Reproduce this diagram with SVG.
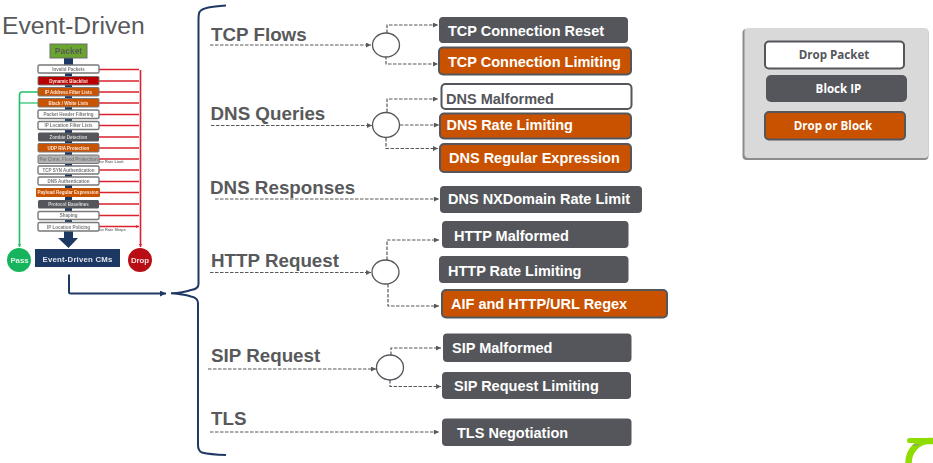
<svg xmlns="http://www.w3.org/2000/svg" width="933" height="463" viewBox="0 0 933 463">
<style>
text{font-family:"Liberation Sans",Arial,sans-serif;font-weight:700}
.lab{font-size:18.800px;fill:#58595b}
.bt{font-size:14.500px;fill:#fff}
.bd{font-size:14.500px;fill:#54565b}
.g{fill:#54565b}
.o{fill:#c85200;stroke:#54565b;stroke-width:2}
.w{fill:#fff;stroke:#54565b;stroke-width:2}
.dash{fill:none;stroke:#58595b;stroke-width:1.200;stroke-dasharray:3.500 1.500}
.circ{fill:#fff;stroke:#54565b;stroke-width:1.300}
.leg{font-family:"Open Sans","Liberation Sans",sans-serif;font-size:11.600px;text-anchor:middle}
.s{font-size:4.500px;text-anchor:middle}
.sd{fill:#77787b}.sw{fill:#fbe9dd}
.r{fill:none;stroke:#d9202c;stroke-width:1.300}
.sw-b{fill:#fff;stroke:#77787b;stroke-width:1.400}
.navy{fill:#1f3864}
.nl{fill:none;stroke:#1f3864;stroke-width:2}
</style>
<defs>
<marker id="ga" markerWidth="6" markerHeight="6" refX="5" refY="2.500" orient="auto" markerUnits="userSpaceOnUse"><path d="M0 0L5 2.500L0 5Z" fill="#58595b"/></marker>
<marker id="ra" markerWidth="4" markerHeight="4" refX="3" refY="1.500" orient="auto" markerUnits="userSpaceOnUse"><path d="M0 0L3 1.500L0 3Z" fill="#d9202c"/></marker>
<marker id="ea" markerWidth="4" markerHeight="4" refX="3" refY="1.500" orient="auto" markerUnits="userSpaceOnUse"><path d="M0 0L3 1.500L0 3Z" fill="#1fbf63"/></marker>
<marker id="na" markerWidth="7" markerHeight="7" refX="6" refY="3" orient="auto" markerUnits="userSpaceOnUse"><path d="M0 0L6 3L0 6Z" fill="#1f3864"/></marker>
<filter id="soft" x="-5%" y="-5%" width="110%" height="110%"><feGaussianBlur stdDeviation="0.450"/></filter>
</defs>
<rect width="933" height="463" fill="#fff"/>
<text id="title" x="2" y="34" font-size="24.700" style="font-weight:400" fill="#58595b">Event-Driven</text>

<g id="flow" filter="url(#soft)">
<g id="stack-connectors">
<rect class="navy" x="64" y="58" width="9" height="7"/>
<rect class="navy" x="65" y="73" width="7" height="160"/>
<path class="navy" d="M64 231H73V238H78L68.500 248L58 238H64Z"/>
<path class="r" d="M99 69.500H139M99 81H139M99 92H139M99 103H139M99 114.500H139M99 125.500H139M99 137H139M99 148H139M99 159H139M99 170H139M99 181.500H139M100 192.500H139M99 204H139M99 215.500H139M99 226.500H139" marker-end="url(#ra)"/>
<path d="M140.500 70V247" fill="none" stroke="#d9202c" stroke-width="1.600" marker-end="url(#ra)"/>
<path d="M38 92H22Q19.500 92 19.500 95V247" fill="none" stroke="#1fbf63" stroke-width="1.600" marker-end="url(#ea)"/>
<path d="M38 103H20" fill="none" stroke="#1fbf63" stroke-width="1.200"/>
</g>
<g id="packet"><rect x="50" y="44" width="37" height="14" fill="#6aa62e" stroke="#6d6e71"/><text x="68.500" y="54" font-size="8.500" text-anchor="middle" fill="#58595b">Packet</text></g>
<g id="s1"><rect class="sw-b" x="38" y="65" width="61" height="8" rx="1.500"/><text class="s sd" x="68.500" y="70.800">Invalid Packets</text></g>
<g id="s2"><rect x="38" y="76.500" width="61" height="8.500" rx="1" fill="#b90000" stroke="#77787b"/><text class="s sw" x="68.500" y="82.500">Dynamic Blacklist</text></g>
<g id="s3"><rect x="38" y="87.500" width="61" height="8.500" rx="1" fill="#c85200" stroke="#77787b"/><text class="s sw" x="68.500" y="93.500">IP Address Filter Lists</text></g>
<g id="s4"><rect x="38" y="98.500" width="61" height="8.500" rx="1" fill="#c85200" stroke="#77787b"/><text class="s sw" x="68.500" y="104.500">Black / White Lists</text></g>
<g id="s5"><rect class="sw-b" x="38" y="110" width="61" height="8.500" rx="1.500"/><text class="s sd" x="68.500" y="116">Packet Header Filtering</text></g>
<g id="s6"><rect class="sw-b" x="38" y="121.500" width="61" height="8" rx="1.500"/><text class="s sd" x="68.500" y="127.300">IP Location Filter Lists</text></g>
<g id="s7"><rect x="38" y="132.500" width="61" height="9" rx="1.500" fill="#54565b"/><text class="s" fill="#d8d8d8" x="68.500" y="138.500">Zombie Detection</text></g>
<g id="s8"><rect x="38" y="143.500" width="61" height="8.500" rx="1" fill="#c85200" stroke="#77787b"/><text class="s sw" x="68.500" y="149.500">UDP RIA Protection</text></g>
<g id="s9"><rect x="38" y="155" width="61" height="8.500" rx="1" fill="#b3b3b3" stroke="#77787b"/><text class="s sd" x="68.500" y="161">Per Conn. Flood Protection</text></g>
<text x="99" y="162.700" font-size="3.800" fill="#77787b">for Rate Limit</text>
<g id="s10"><rect class="sw-b" x="38" y="166" width="61" height="8" rx="1.500"/><text class="s sd" x="68.500" y="171.800">TCP SYN Authentication</text></g>
<g id="s11"><rect class="sw-b" x="38" y="177" width="61" height="8" rx="1.500"/><text class="s sd" x="68.500" y="182.800">DNS Authentication</text></g>
<g id="s12"><rect x="36" y="188" width="64" height="9" rx="1" fill="#c85200"/><text class="s sw" x="68" y="194">Payload Regular Expression</text></g>
<g id="s13"><rect x="38" y="200" width="61" height="8.500" rx="1.500" fill="#54565b"/><text class="s" fill="#d8d8d8" x="68.500" y="206">Protocol Baselines</text></g>
<g id="s14"><rect class="sw-b" x="38" y="211.500" width="61" height="8" rx="1.500"/><text class="s sd" x="68.500" y="217.300">Shaping</text></g>
<g id="s15"><rect class="sw-b" x="38" y="222.500" width="61" height="8.500" rx="1.500"/><text class="s sd" x="68.500" y="228.500">IP Location Policing</text></g>
<text x="99" y="230.500" font-size="3.800" fill="#77787b">for Rate Shape</text>
<g id="cms"><rect class="navy" x="35" y="249" width="85" height="18"/><text x="77.500" y="261.500" font-size="7.800" text-anchor="middle" fill="#dfe4ec" letter-spacing=".2">Event-Driven CMs</text></g>
<g id="pass"><circle cx="19" cy="260" r="12" fill="#17b45c"/><text x="19.500" y="263" font-size="7.800" text-anchor="middle" fill="#dff5e8">Pass</text></g>
<g id="drop"><circle cx="140" cy="260" r="12" fill="#b90f18"/><text x="140" y="263" font-size="7.800" text-anchor="middle" fill="#f5e0e0">Drop</text></g>
</g>

<g id="connectors">
<path class="nl" d="M69 274.500V292Q69 293.500 71 293.500H166" marker-end="url(#na)"/>
<path d="M226 5.500C212 6.500 202 7.500 199.500 12Q198.500 14 198.500 20V284Q198.500 289 191 290Q183 293 171 293.300Q183 294 191 296.500Q198 298 198 303V445Q198 451 202 452.500Q210 454.500 226 455" fill="none" stroke="#1f3864" stroke-width="2"/>
<g class="dash">
<path d="M210 45H371" marker-end="url(#ga)"/>
<path d="M387 33V25H438" marker-end="url(#ga)"/>
<path d="M386 56V64H438" marker-end="url(#ga)"/>
<path d="M211 125.500H372" marker-end="url(#ga)"/>
<path d="M387 112V99H438" marker-end="url(#ga)"/>
<path d="M400 125H439" marker-end="url(#ga)"/>
<path d="M386 138V148.500H438" marker-end="url(#ga)"/>
<path d="M215 199H439" marker-end="url(#ga)"/>
<path d="M210 272.500H371" marker-end="url(#ga)"/>
<path d="M387 260V240H439" marker-end="url(#ga)"/>
<path d="M388 284V306H439" marker-end="url(#ga)"/>
<path d="M208 369H376" marker-end="url(#ga)"/>
<path d="M391 355V348H441" marker-end="url(#ga)"/>
<path d="M390 380V386.500H441" marker-end="url(#ga)"/>
<path d="M210 432H439" marker-end="url(#ga)"/>
</g>
</g>

<g id="fork-tcp"><ellipse class="circ" cx="386" cy="45" rx="13.500" ry="12"/></g>
<g id="fork-dns"><ellipse class="circ" cx="386" cy="125" rx="13.500" ry="12.500"/></g>
<g id="fork-http"><ellipse class="circ" cx="385.500" cy="272" rx="13.500" ry="12"/></g>
<g id="fork-sip"><ellipse class="circ" cx="390" cy="367.500" rx="13.500" ry="12.500"/></g>

<g id="label-tcp"><text class="lab" x="211" y="41">TCP Flows</text></g>
<g id="label-dnsq"><text class="lab" x="210.500" y="120">DNS Queries</text></g>
<g id="label-dnsr"><text class="lab" x="210" y="194">DNS Responses</text></g>
<g id="label-http"><text class="lab" x="211" y="267">HTTP Request</text></g>
<g id="label-sip"><text class="lab" x="211" y="362">SIP Request</text></g>
<g id="label-tls"><text class="lab" x="211" y="425">TLS</text></g>

<g id="b1"><rect class="g" x="439" y="17" width="189" height="26" rx="4"/><text class="bt" x="448" y="36">TCP Connection Reset</text></g>
<g id="b2"><rect class="o" x="439" y="47.500" width="192" height="27" rx="4"/><text class="bt" x="448" y="67">TCP Connection Limiting</text></g>
<g id="b3"><rect class="w" x="441.500" y="84" width="190" height="25" rx="4"/><text class="bd" x="446" y="104">DNS Malformed</text></g>
<g id="b4"><rect class="o" x="440" y="113.500" width="191" height="25" rx="4"/><text class="bt" x="446.500" y="130">DNS Rate Limiting</text></g>
<g id="b5"><rect class="o" x="440" y="144" width="191" height="28" rx="4"/><text class="bt" x="449" y="163">DNS Regular Expression</text></g>
<g id="b6"><rect class="g" x="440" y="186" width="202" height="27" rx="4"/><text class="bt" x="448" y="204">DNS NXDomain Rate Limit</text></g>
<g id="b7"><rect class="g" x="442" y="221" width="186.500" height="27" rx="4"/><text class="bt" x="454" y="241">HTTP Malformed</text></g>
<g id="b8"><rect class="g" x="439" y="256" width="189.500" height="27" rx="4"/><text class="bt" x="448" y="276">HTTP Rate Limiting</text></g>
<g id="b9"><rect class="o" x="442" y="290" width="225" height="27.500" rx="4"/><text class="bt" x="451" y="309">AIF and HTTP/URL Regex</text></g>
<g id="b10"><rect class="g" x="443" y="333.500" width="188.500" height="28.500" rx="4"/><text class="bt" x="452" y="353">SIP Malformed</text></g>
<g id="b11"><rect class="g" x="442" y="372" width="189" height="27" rx="4"/><text class="bt" x="454" y="391">SIP Request Limiting</text></g>
<g id="b12"><rect class="g" x="442" y="418.500" width="189.500" height="27.500" rx="4"/><text class="bt" x="457" y="438">TLS Negotiation</text></g>

<g id="legend">
<rect x="742.500" y="29" width="186" height="131" rx="4" fill="#8c8c8c"/>
<rect x="744.500" y="28" width="184" height="130" rx="4" fill="#d9d9d9"/>
<g id="leg1"><rect class="w" x="765" y="41.500" width="139" height="27" rx="4"/><text class="leg" fill="#54565b" x="834" y="58.500">Drop Packet</text></g>
<g id="leg2"><rect class="g" x="766" y="75" width="141" height="27" rx="5"/><text class="leg" fill="#fff" x="838.500" y="93">Block IP</text></g>
<g id="leg3"><rect class="o" x="765" y="112" width="140" height="27.500" rx="4"/><text class="leg" fill="#fff" x="833" y="130">Drop or Block</text></g>
</g>

<g id="logo"><path d="M936 441H929A20.500 22 0 0 0 908.500 463V466" fill="none" stroke="#8fdc00" stroke-width="6.500"/><path d="M909.500 440.500H925" fill="none" stroke="#8fdc00" stroke-width="5" stroke-linecap="round"/><path d="M913 445H919" stroke="#8f9a80" stroke-width="1.300"/></g>
</svg>
